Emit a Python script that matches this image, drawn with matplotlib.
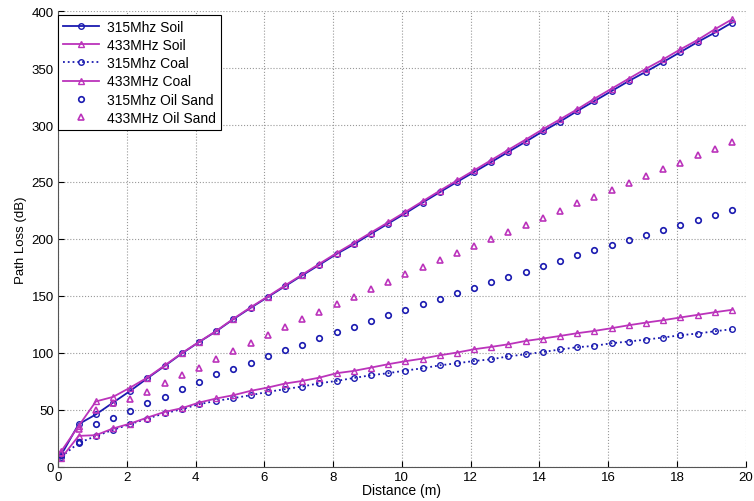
import numpy as np
import matplotlib.pyplot as plt

plt.rcParams['font.family'] = ['Liberation Sans', 'DejaVu Sans']

# distancia (m)
dist = [0.1 + 0.5 * k for k in range(40)]

soil_315 = [11, 37.5, 46, 56.4, 66.7, 77.8, 88.5, 99.5, 109.5, 119,
            129.6, 139.5, 149, 158.5, 168, 177.3, 186.8, 195.3, 204.5, 213.5,
            222.5, 231.9, 241, 250, 258.7, 267.5, 276.5, 285.3, 294.5, 303,
            312.3, 321, 329.8, 338.6, 346.8, 355.3, 364, 372.8, 381, 389.8]
soil_433 = [14, 36, 57.4, 61.4, 69.6, 78.4, 89, 99.8, 109.7, 119.3,
            130, 140, 149.5, 159.2, 168.7, 178.2, 187.6, 196.5, 205.6, 214.6,
            223.7, 233, 242.3, 251.3, 260.2, 269.2, 278.3, 287.2, 296.3, 305,
            313.8, 323.1, 331.9, 340.7, 349.4, 357.6, 366.4, 374.6, 384, 392.7]
coal_315 = [9, 21, 27, 32.5, 37.5, 42.4, 47, 50.6, 55, 57.9,
            60.3, 62.9, 65.8, 68.2, 70.5, 73.4, 75.4, 78, 80.4, 82.2,
            84.5, 86.5, 89.1, 90.9, 92.9, 94.4, 97, 98.8, 100.8, 103,
            105, 106.2, 108.5, 110, 111.7, 113.5, 115.5, 117, 119, 120.8]
coal_433 = [8, 27.2, 27.8, 33.7, 38, 43.3, 48.2, 51.5, 56.4, 60,
            62.9, 66.7, 69.6, 73.1, 75.4, 78.3, 82.2, 84.2, 87.1, 90.1,
            92.7, 95, 97.9, 100.3, 103.2, 105.3, 107.6, 110.5, 112.6, 114.9,
            117.3, 119.3, 121.7, 124.3, 126.6, 128.7, 131.1, 133.4, 135.7, 137.8]
oil_315 = [10, 21.5, 38, 42.7, 49.2, 55.9, 61.7, 68.1, 74.5, 81.3,
           85.7, 91.5, 97.4, 102.4, 107.3, 113.2, 118.1, 123.1, 128.1, 133,
           138, 143.1, 147.7, 152.5, 157.3, 162.3, 167, 171.4, 176.3, 180.7,
           185.7, 190, 194.4, 198.8, 203.2, 207.9, 212.3, 216.7, 221.4, 225.7]
oil_433 = [12, 33, 49.7, 56.4, 59.4, 66, 73.4, 80.7, 87.1, 94.5,
           101.8, 108.5, 115.6, 122.9, 129.6, 136.3, 143.1, 149.1, 155.9, 162.3,
           169, 175.5, 181.3, 187.4, 193.6, 199.7, 206, 212.3, 218.4, 224.6,
           231.3, 236.9, 243, 249.5, 255.3, 261.7, 267, 273.4, 279.3, 285.1]

azul = '#1a1ab0'
magenta = '#bb33bb'

fig = plt.figure(figsize=(7.54, 5.02), dpi=100)
ax = fig.add_axes([0.077, 0.068, 0.912, 0.908])

ms = 4
ax.plot(dist, soil_315, '-o', color=azul, mfc='none', ms=ms, lw=1.3, label='315Mhz Soil')
ax.plot(dist, soil_433, '-^', color=magenta, mfc='none', ms=ms + 1, lw=1.3, label='433MHz Soil')
ax.plot(dist, coal_315, ':o', color=azul, mfc='none', ms=ms, lw=1.3, label='315Mhz Coal')
ax.plot(dist, coal_433, '-^', color=magenta, mfc='none', ms=ms + 1, lw=1.3, label='433MHz Coal')
ax.plot(dist, oil_315, 'o', color=azul, mfc='none', ms=ms, mew=1.2, label='315Mhz Oil Sand')
ax.plot(dist, oil_433, '^', color=magenta, mfc='none', ms=ms + 1, mew=1.2, label='433MHz Oil Sand')

ax.set_xlim(0, 20)
ax.set_ylim(0, 400)
ax.set_xticks(np.arange(0, 21, 2))
ax.set_yticks(np.arange(0, 401, 50))
ax.tick_params(direction='in', labelsize=9.5, length=4, width=0.8, pad=3)
for s in ['top', 'right']:
    ax.spines[s].set_visible(False)
for s in ['left', 'bottom']:
    ax.spines[s].set_color('#555555')
ax.grid(True, linestyle=':', color='#999999', lw=0.8)
ax.set_xlabel('Distance (m)', fontsize=10, labelpad=0)
ax.set_ylabel('Path Loss (dB)', fontsize=9.5, labelpad=3)

leg = ax.legend(loc='upper left', bbox_to_anchor=(0, 0.992), borderaxespad=0,
                fontsize=10, fancybox=False, edgecolor='black', framealpha=1,
                handlelength=2.6, labelspacing=0.31, borderpad=0.35, handletextpad=0.6)
leg.get_frame().set_linewidth(0.8)

fig.savefig('out.png', dpi=100)
